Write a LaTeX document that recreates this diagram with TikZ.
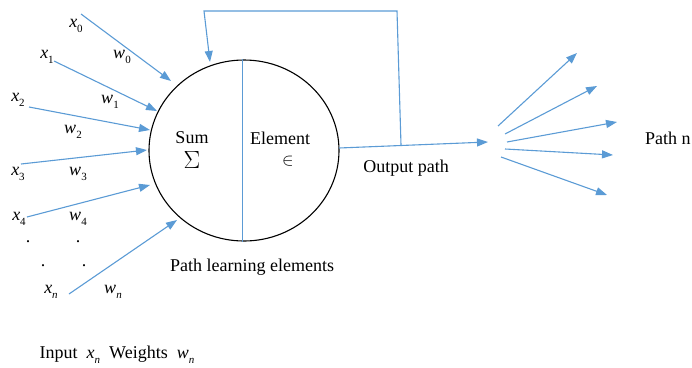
\documentclass[tikz,border=0pt]{standalone}
\usepackage{fontspec}
\setmainfont{Liberation Serif}
\usetikzlibrary{arrows.meta,shapes.geometric}
\definecolor{pathblue}{RGB}{91,155,213}
% italic letter with a lowered index
\newcommand{\idx}[2]{\textit{#1}\raisebox{-0.6ex}{\fontsize{11}{12}\selectfont #2}}

\begin{document}
\begin{tikzpicture}[
  x=1pt, y=-1pt,
  every node/.style={font=\fontsize{18}{20}\selectfont, inner sep=0pt},
  link/.style={draw=pathblue, line width=1.1pt, -{Triangle[length=11pt,width=8pt]}},
  wire/.style={draw=pathblue, line width=0.8pt}
]
\useasboundingbox (0,0) rectangle (692,367);

% learning cell
\node[draw, ellipse, line width=1.1pt, minimum width=190pt, minimum height=181pt] (cell) at (244,150.5) {};
\draw[wire] (cell.north -| 242,0) -- (cell.south -| 242,0);
\node (sum) at (192,138) {Sum};
\node (sig) at (192,160) {\fontsize{24}{24}\selectfont$\Sigma$};
\node (elem) at (280,138) {Element};
\node (epsi) at (288,161) {$\in$};
\node (plearn) at (252,267) {Path learning elements};

% inputs and weights
\node (x0) at (76,26) {\idx{x}{0}};
\node (w0) at (122,57) {\idx{w}{0}};
\node (x1) at (47,57) {\idx{x}{1}};
\node (w1) at (110,102) {\idx{w}{1}};
\node (x2) at (18,100) {\idx{x}{2}};
\node (w2) at (73,132) {\idx{w}{2}};
\node (x3) at (18,174) {\idx{x}{3}};
\node (w3) at (78,174) {\idx{w}{3}};
\node (x4) at (19,219) {\idx{x}{4}};
\node (w4) at (78,219) {\idx{w}{4}};
\node (d1) at (28,242) {.};
\node (d2) at (78,242) {.};
\node (d3) at (43,266) {.};
\node (d4) at (84,266) {.};
\node (xn) at (51,292) {\idx{x}{\textit{n}}};
\node (wn) at (113,292) {\idx{w}{\textit{n}}};
\node (legend) at (117,355) {Input \ \idx{x}{\textit{n}} \ Weights \ \idx{w}{\textit{n}}};

\coordinate (s0) at (81,14);   \coordinate (t0) at (171,81);
\coordinate (s1) at (54,61);   \coordinate (t1) at (157,111);
\coordinate (s2) at (29,107);  \coordinate (t2) at (150,130);
\coordinate (s3) at (21,164);  \coordinate (t3) at (147,150);
\coordinate (s4) at (27,217);  \coordinate (t4) at (150,185);
\coordinate (sn) at (69,294);  \coordinate (tn) at (177,220);
\draw[link] (s0) -- (t0);
\draw[link] (s1) -- (t1);
\draw[link] (s2) -- (t2);
\draw[link] (s3) -- (t3);
\draw[link] (s4) -- (t4);
\draw[link] (sn) -- (tn);

% output and feedback
\coordinate (out) at (339,148);
\coordinate (hub) at (488,142);
\coordinate (fb) at (401,145);
\coordinate (fbtop) at (397,11);
\coordinate (fbleft) at (204,11);
\coordinate (fbin) at (210,62);
\draw[link] (out) -- (hub);
\draw[link] (fb) -- (fbtop) -- (fbleft) -- (fbin);
\node (opath) at (406,168) {Output path};

% fan of paths
\coordinate (f1) at (498,126); \coordinate (g1) at (577,53);
\coordinate (f2) at (505,134); \coordinate (g2) at (597,86);
\coordinate (f3) at (507,142); \coordinate (g3) at (617,122);
\coordinate (f4) at (505,149); \coordinate (g4) at (613,155);
\coordinate (f5) at (501,157); \coordinate (g5) at (607,195);
\draw[link] (f1) -- (g1);
\draw[link] (f2) -- (g2);
\draw[link] (f3) -- (g3);
\draw[link] (f4) -- (g4);
\draw[link] (f5) -- (g5);
\node[anchor=west] (pn) at (645,138) {Path n};
\end{tikzpicture}
\end{document}
